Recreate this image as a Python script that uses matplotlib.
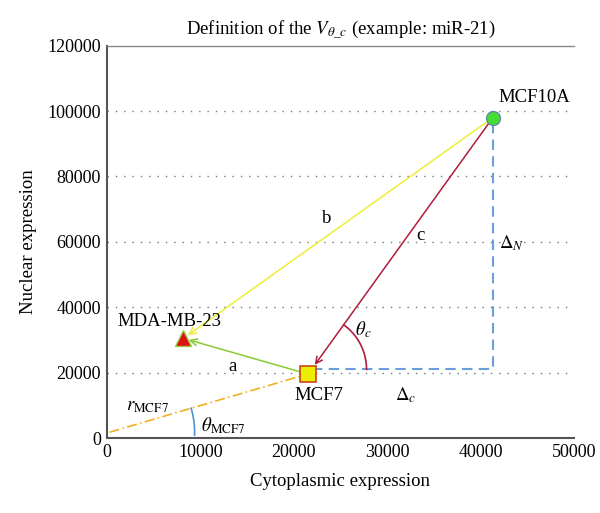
import numpy as np
import matplotlib
matplotlib.use("Agg")
import matplotlib.pyplot as plt

plt.rcParams['font.family'] = ['Liberation Serif', 'DejaVu Serif']
plt.rcParams['mathtext.fontset'] = 'stix'

# cell lines (cytoplasmic, nuclear)
cells = ["MCF10A", "MCF7", "MDA-MB-23"]
cyto = [41300, 21500, 8200]
nuc = [98000, 19600, 30500]
corner_y = 21000      # level of the horizontal delta line
r_start = [300, 1800]  # start of the r_MCF7 ray

xticks = [0, 10000, 20000, 30000, 40000, 50000]
yticks = [0, 20000, 40000, 60000, 80000, 100000, 120000]

fig = plt.figure(figsize=(6, 5.13), dpi=100)
ax = fig.add_axes([0.178, 0.146, 0.779, 0.765])
ax.set_xlim(0, 50000)
ax.set_ylim(0, 120000)
ax.set_xticks(xticks)
ax.set_yticks(yticks)
ax.tick_params(length=0, labelsize=13, pad=4)
for y in yticks[1:-1]:
    ax.axhline(y, color='#777777', ls=(0, (1, 5)), lw=1, zorder=0)
for s in ['left', 'bottom']:
    ax.spines[s].set_color('#555555')
    ax.spines[s].set_linewidth(1.5)
ax.spines['top'].set_color('#888888')
ax.spines['top'].set_linewidth(1)
ax.spines['right'].set_visible(False)

x10, x7, xmda = cyto
y10, y7, ymda = nuc

# arrows
def arrow(x0, y0, x1, y1, color):
    ax.annotate('', xy=(x1, y1), xytext=(x0, y0),
                arrowprops=dict(arrowstyle='->', color=color, lw=1.1,
                                shrinkA=0, shrinkB=4, mutation_scale=12),
                zorder=3)

arrow(x10, y10, xmda, ymda, '#eeee33')
arrow(x10, y10, x7 + 400, corner_y, '#b01c3c')
arrow(x7, y7, xmda, ymda, '#88cc33')

# delta lines
ax.plot([x7 + 400, x10, x10], [corner_y, corner_y, y10], color='#6a9edc',
        ls=(0, (5, 3)), lw=1.5, zorder=2)

# r_MCF7 ray
ax.plot([r_start[0], x7], [r_start[1], y7], color='#f0b020',
        ls=(0, (6, 2, 1, 2)), lw=1.2, zorder=2)

# markers
ax.plot(x10, y10, 'o', ms=10, mfc='#44dd33', mec='#6688aa', mew=1, zorder=5)
ax.plot(x7, y7, 's', ms=11, mfc='#eeee00', mec='#cc4422', mew=1.2, zorder=5)
ax.plot(xmda, ymda, '^', ms=11, mfc='#dd1111', mec='#99cc44', mew=1, zorder=5)

# angle arcs (drawn in pixel space so they look circular)
def pix_arc(cx, cy, rad_px, t0, t1, color):
    p = ax.transData.transform([cx, cy])
    t = np.radians(np.linspace(t0, t1, 60))
    pts = np.column_stack([p[0] + rad_px * np.cos(t), p[1] + rad_px * np.sin(t)])
    d = ax.transData.inverted().transform(pts)
    ax.plot(d[:, 0], d[:, 1], color=color, lw=1.2, zorder=3)

fig.canvas.draw()
p7 = ax.transData.transform([x7 + 400, corner_y])
p10 = ax.transData.transform([x10, y10])
ang_c = np.degrees(np.arctan2(p10[1] - p7[1], p10[0] - p7[0]))
pix_arc(x7 + 400, corner_y, 55, 0, ang_c, '#b01c3c')

p0 = ax.transData.transform(r_start)
pm = ax.transData.transform([x7, y7])
ang_r = np.degrees(np.arctan2(pm[1] - p0[1], pm[0] - p0[0]))
pix_arc(r_start[0], r_start[1], 85, -2, ang_r, '#4a90d9')

# labels
fs = 13.5
ax.text(x10 + 600, y10 + 3500, "MCF10A", fontsize=fs, ha='left', va='bottom')
ax.text(xmda - 1500, ymda + 2500, "MDA-MB-23", fontsize=fs, ha='center', va='bottom')
ax.text(x7 + 1200, y7 - 4000, "MCF7", fontsize=fs, ha='center', va='top')
ax.text(23500, 67000, "b", fontsize=fs, ha='center', va='center')
ax.text(33500, 62000, "c", fontsize=fs, ha='center', va='center')
ax.text(13400, 22000, "a", fontsize=fs, ha='center', va='center')
ax.text(42000, 59500, r"$\Delta_N$", fontsize=fs, ha='left', va='center')
ax.text(32000, 13000, r"$\Delta_c$", fontsize=fs, ha='center', va='center')
ax.text(27400, 33200, r"$\theta_c$", fontsize=fs, ha='center', va='center')
ax.text(4400, 9800, r"$r_{\mathrm{MCF7}}$", fontsize=fs, ha='center', va='center')
ax.text(12500, 3900, r"$\theta_{\mathrm{MCF7}}$", fontsize=fs, ha='center', va='center')

ax.set_title(r"Definition of the $V_{\theta\_c}$ (example: miR-21)", fontsize=13.5, pad=8)
ax.set_xlabel("Cytoplasmic expression", fontsize=13.5, labelpad=9)
ax.set_ylabel("Nuclear expression", fontsize=13.5, labelpad=8)

fig.savefig("out.png", dpi=100)
